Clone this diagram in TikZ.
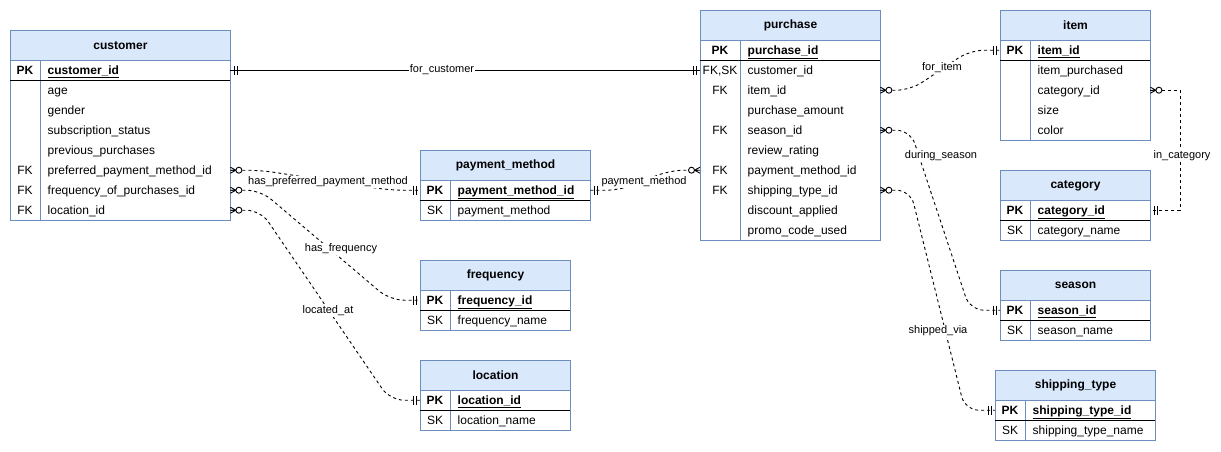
\documentclass[tikz,border=0pt]{standalone}
\usepackage{fontspec}
\setmainfont{Liberation Sans}
\definecolor{tblborder}{HTML}{6C8EBF}
\definecolor{tblhead}{HTML}{DAE8FC}

\tikzset{
  hdr/.style={draw=tblborder, fill=tblhead, line width=1pt, anchor=north west,
    minimum height=30pt, inner sep=0pt, font=\fontsize{12}{14}\selectfont\bfseries},
  rowbox/.style={anchor=north west, minimum height=20pt, inner sep=0pt},
  keytext/.style={anchor=base, font=\fontsize{12}{14}\selectfont, inner sep=0pt},
  fieldtext/.style={anchor=base west, font=\fontsize{12}{14}\selectfont, inner sep=0pt},
  tblline/.style={draw=tblborder, line width=1pt},
  link/.style={line width=0.9pt, draw=black},
  optlink/.style={link, dash pattern=on 3pt off 3pt, rounded corners=14pt},
  linklabel/.style={fill=white, inner sep=1pt, font=\fontsize{11}{13}\selectfont},
}

\newcommand\pkf[1]{\textbf{\underline{#1}}}

% #1 name, #2 title, #3 left, #4 top, #5 width, #6 key column width, #7 row count, #8 rows key/field
\newcommand\ertable[8]{%
  \fill[white] (#3,#4+30) rectangle (#3+#5,#4+30+20*#7);
  \node[hdr, minimum width=#5pt] (#1) at (#3,#4) {#2};
  \foreach \k/\f [count=\i] in {#8} {
    \node[rowbox, minimum width=#5pt] (#1-\i) at (#3,#4+10+20*\i) {};
    \node[keytext] (#1-\i-k) at (#3+#6/2,#4+24.3+20*\i) {\k};
    \node[fieldtext] (#1-\i-f) at (#3+#6+7.5,#4+24.3+20*\i) {\f};
  }
  \draw[tblline] (#3+#6,#4+30) -- (#3+#6,#4+30+20*#7);
  \draw[tblline] (#3,#4+30) rectangle (#3+#5,#4+30+20*#7);
  \draw[line width=1pt] (#3,#4+50) -- (#3+#5,#4+50);
}

% mandatory one: two bars next to the entity
\newcommand\mandone[2]{%
  \begin{scope}[shift={(#1)}, xscale=#2]
    \draw[line width=0.9pt] (4,-4.5) -- (4,4.5) (7,-4.5) -- (7,4.5);
  \end{scope}}

% zero or many: crow's foot and ring
\newcommand\zeromany[2]{%
  \begin{scope}[shift={(#1)}, xscale=#2]
    \draw[line width=0.9pt] (0,-3) -- (5.5,0) -- (0,3) (0,0) -- (5.5,0);
    \draw[line width=0.9pt, fill=white] (8.5,0) circle (3);
  \end{scope}}

\begin{document}
\begin{tikzpicture}[x=1pt, y=-1pt]
\useasboundingbox (0,0) rectangle (1221,451);

\ertable{customer}{customer}{10}{30}{220}{30}{8}{%
  \textbf{PK}/\pkf{customer\_id}, /age, /gender, /subscription\_status,
  /previous\_purchases, FK/preferred\_payment\_method\_id,
  FK/frequency\_of\_purchases\_id, FK/location\_id}

\ertable{purchase}{purchase}{700}{10}{180}{40}{10}{%
  \textbf{PK}/\pkf{purchase\_id}, {FK,SK}/customer\_id, FK/item\_id,
  /purchase\_amount, FK/season\_id, /review\_rating, FK/payment\_method\_id,
  FK/shipping\_type\_id, /discount\_applied, /promo\_code\_used}

\ertable{payment}{payment\_method}{420}{150}{170}{30}{2}{%
  \textbf{PK}/\pkf{payment\_method\_id}, SK/payment\_method}

\ertable{frequency}{frequency}{420}{260}{150}{30}{2}{%
  \textbf{PK}/\pkf{frequency\_id}, SK/frequency\_name}

\ertable{location}{location}{420}{360}{150}{30}{2}{%
  \textbf{PK}/\pkf{location\_id}, SK/location\_name}

\ertable{item}{item}{1000}{10}{150}{30}{5}{%
  \textbf{PK}/\pkf{item\_id}, /item\_purchased, /category\_id, /size, /color}

\ertable{category}{category}{1000}{170}{150}{30}{2}{%
  \textbf{PK}/\pkf{category\_id}, SK/category\_name}

\ertable{season}{season}{1000}{270}{150}{30}{2}{%
  \textbf{PK}/\pkf{season\_id}, SK/season\_name}

\ertable{shipping}{shipping\_type}{995}{370}{160}{30}{2}{%
  \textbf{PK}/\pkf{shipping\_type\_id}, SK/shipping\_type\_name}

% relationships
\draw[link] (customer-1.east) -- (purchase-2.west);
\node[linklabel] (l-forcustomer) at (442,70) {for\_customer};

\draw[optlink] (customer-6.east) -- ++(30,0) -- ([xshift=-30pt]payment-1.west) -- (payment-1.west);
\node[linklabel] (l-haspay) at (328,182) {has\_preferred\_payment\_method};

\draw[optlink] (payment-1.east) -- ++(30,0) -- ([xshift=-30pt]purchase-7.west) -- (purchase-7.west);
\node[linklabel] (l-paymethod) at (644,182) {payment\_method};

\draw[optlink] (customer-7.east) -- ++(30,0) -- ([xshift=-30pt]frequency-1.west) -- (frequency-1.west);
\node[linklabel] (l-hasfreq) at (341,249) {has\_frequency};

\draw[optlink] (customer-8.east) -- ++(30,0) -- ([xshift=-30pt]location-1.west) -- (location-1.west);
\node[linklabel] (l-located) at (328,311) {located\_at};

\draw[optlink] (purchase-3.east) -- ++(30,0) -- ([xshift=-30pt]item-1.west) -- (item-1.west);
\node[linklabel] (l-foritem) at (942,68) {for\_item};

\draw[optlink, rounded corners=0pt] (item-3.east) -- ++(30,0) |- (category-1.east);
\node[linklabel] (l-incat) at (1182,156) {in\_category};

\draw[optlink] (purchase-5.east) -- ++(30,0) -- ([xshift=-30pt]season-1.west) -- (season-1.west);
\node[linklabel] (l-season) at (941,156) {during\_season};

\draw[optlink] (purchase-8.east) -- ++(30,0) -- ([xshift=-30pt]shipping-1.west) -- (shipping-1.west);
\node[linklabel] (l-shipped) at (938,331) {shipped\_via};

% end markers
\mandone{customer-1.east}{1}
\mandone{purchase-2.west}{-1}
\zeromany{customer-6.east}{1}
\mandone{payment-1.west}{-1}
\mandone{payment-1.east}{1}
\zeromany{purchase-7.west}{-1}
\zeromany{customer-7.east}{1}
\mandone{frequency-1.west}{-1}
\zeromany{customer-8.east}{1}
\mandone{location-1.west}{-1}
\zeromany{purchase-3.east}{1}
\mandone{item-1.west}{-1}
\zeromany{item-3.east}{1}
\mandone{category-1.east}{1}
\zeromany{purchase-5.east}{1}
\mandone{season-1.west}{-1}
\zeromany{purchase-8.east}{1}
\mandone{shipping-1.west}{-1}
\end{tikzpicture}
\end{document}
